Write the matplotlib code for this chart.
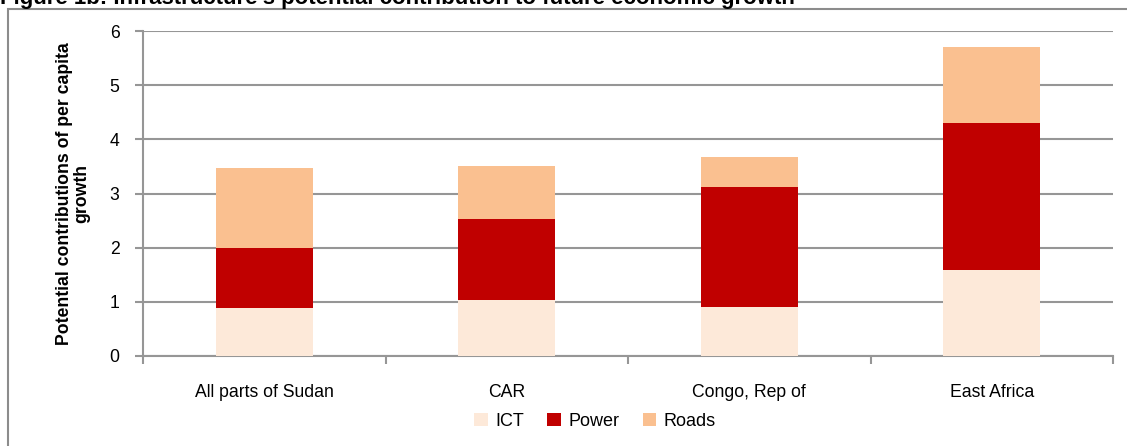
import matplotlib.pyplot as plt
import matplotlib.patches as mpatches
import numpy as np

plt.rcParams['font.family'] = ['Liberation Sans', 'DejaVu Sans']

# Data
regions = ['All parts of Sudan', 'CAR', 'Congo, Rep of', 'East Africa']
ict = [0.88, 1.03, 0.91, 1.59]
power = [1.12, 1.50, 2.21, 2.71]
roads = [1.47, 0.98, 0.55, 1.40]

W, H = 1127, 446
fig = plt.figure(figsize=(W / 100, H / 100), dpi=100)

# outer frame of the figure box (runs off the right/bottom edge)
frame = mpatches.Rectangle((8 / W, -0.1), 1.2, 1 - 9 / H + 0.1, transform=fig.transFigure,
                           fill=False, edgecolor='#8c8c8c', linewidth=1.5)
fig.patches.append(frame)

# clipped title at the very top
fig.text(0, 1 - 4 / H, "Figure 1b: Infrastructure's potential contribution to future economic growth",
         fontsize=16, fontweight='bold', va='baseline', ha='left')

ax = fig.add_axes([143 / W, 1 - 356 / H, (1113 - 143) / W, (356 - 31) / H])

x = np.arange(len(regions))
bw = 0.4
ict_a = np.array(ict)
power_a = np.array(power)
roads_a = np.array(roads)
ax.bar(x, ict_a, bw, color='#FDE9D9', label='ICT', zorder=3)
ax.bar(x, power_a, bw, bottom=ict_a, color='#C00000', label='Power', zorder=3)
ax.bar(x, roads_a, bw, bottom=ict_a + power_a, color='#FAC090', label='Roads', zorder=3)

ax.set_xlim(-0.5, len(regions) - 0.5)
ax.set_ylim(0, 6)
ax.set_yticks(range(7))
ax.yaxis.grid(True, color='#969696', linewidth=1.5, zorder=0)
ax.set_axisbelow(True)

for side in ['top', 'right']:
    ax.spines[side].set_visible(False)
for side in ['left', 'bottom']:
    ax.spines[side].set_color('#969696')
    ax.spines[side].set_linewidth(1.5)

ax.set_xticks(x)
ax.set_xticklabels(regions, fontsize=12.7)
ax.tick_params(axis='x', length=0, pad=20)
ax.set_xticks(np.arange(-0.5, len(regions), 1), minor=True)
ax.tick_params(axis='x', which='minor', length=6, color='#969696', width=1.5, direction='out')
ax.tick_params(axis='y', length=6, color='#969696', width=1.5, direction='out', labelsize=12.7, pad=11)

ax.set_ylabel('Potential contributions of per capita\ngrowth', fontsize=12.7, fontweight='bold',
              linespacing=1.0, labelpad=14)

handles, labels = ax.get_legend_handles_labels()
fig.legend(handles, labels, loc='center', bbox_to_anchor=(595 / W, 1 - 421 / H), ncol=3,
           frameon=False, fontsize=13, handlelength=0.75, handleheight=0.75,
           handletextpad=0.4, columnspacing=1.3)

fig.savefig('out.png', dpi=100)
